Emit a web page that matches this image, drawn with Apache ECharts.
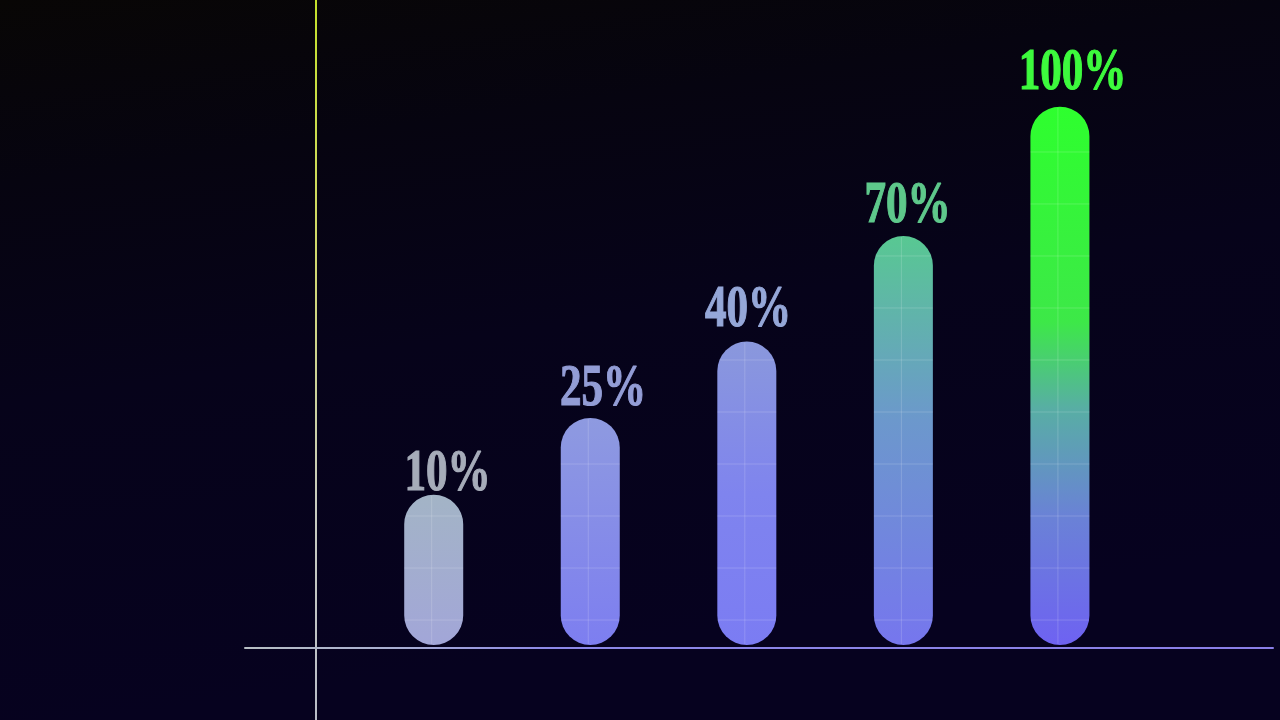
<!DOCTYPE html>
<html>
<head>
<meta charset="utf-8">
<script src="https://cdn.jsdelivr.net/npm/echarts@6/dist/echarts.min.js"></script>
<style>
html,body{margin:0;padding:0;background:#07051a;overflow:hidden;}
#c{width:1280px;height:720px;}
</style>
</head>
<body>
<div id="c"></div>
<script>
// ---- data ----
const labels = ['10%', '25%', '40%', '70%', '100%'];
const slots = [0, 1, 2, 3, 4];
const heights = [28.3, 42.5, 56.6, 76.1, 100];

// ---- styles ----
const BAR_W = 59;
const BASE_GAP = 3;
const GRID_OFFSET = 5.17;
const GRID_STEP = 9.607;
const VLINE_DX = -2;
const TEXT_SCALE_X = 0.73;
const labelShiftX = [13.8, 12.7, 1.2, 4.1, 12.6];
const labelLift = [22, 30, 33, 31.5, 35];
const labelColors = ['#a6acb9', '#939dd6', '#95a7d8', '#5ec88b', '#3dfa3d'];
const barStops = [
  [[0, '#a3b4c6'], [1, '#a2a6d8']],
  [[0, '#8e9ae0'], [1, '#7d7ef0']],
  [[0, '#8a98dc'], [0.5, '#7f84ee'], [1, '#7b7cf3']],
  [[0, '#58c892'], [0.45, '#6c98cc'], [1, '#7676ee']],
  [[0, '#2eff2e'], [0.4, '#3de848'], [0.56, '#58aea4'], [0.76, '#6a82d6'], [1, '#6e62f2']]
];

const chart = echarts.init(document.getElementById('c'), null, {renderer: 'canvas'});
const LG = echarts.graphic.LinearGradient;

function renderItem(params, api) {
  const i = params.dataIndex;
  const xv = api.value(0), hv = api.value(1);
  const topPt = api.coord([xv, hv]);
  const basePt = api.coord([xv, 0]);
  const cx = topPt[0];
  const r = BAR_W / 2;
  const y0 = topPt[1];
  const y1 = basePt[1] - BASE_GAP;
  const children = [];
  children.push({
    type: 'rect',
    shape: {x: cx - r, y: y0, width: BAR_W, height: y1 - y0, r: r},
    style: {fill: new LG(0, 0, 0, 1, barStops[i].map(s => ({offset: s[0], color: s[1]})))}
  });
  const lineStyle = {stroke: 'rgba(255,255,255,0.17)', lineWidth: 1};
  for (let v = GRID_OFFSET; v < hv; v += GRID_STEP) {
    const yy = api.coord([xv, v])[1];
    if (yy <= y0 + 1 || yy >= y1 - 1) continue;
    let hw = r;
    if (yy < y0 + r) { const d = y0 + r - yy; hw = Math.sqrt(Math.max(0, r * r - d * d)); }
    else if (yy > y1 - r) { const d = yy - (y1 - r); hw = Math.sqrt(Math.max(0, r * r - d * d)); }
    children.push({type: 'line', shape: {x1: cx - hw, y1: yy, x2: cx + hw, y2: yy}, style: lineStyle});
  }
  children.push({type: 'line', shape: {x1: cx + VLINE_DX, y1: y0 + 1, x2: cx + VLINE_DX, y2: y1 - 1}, style: lineStyle});
  children.push({
    type: 'text',
    x: cx + labelShiftX[i],
    y: y0 - labelLift[i] + 2,
    scaleX: TEXT_SCALE_X,
    style: {
      text: labels[i], x: 0, y: 0,
      font: 'bold 59px "Liberation Serif", "Times New Roman", serif',
      fill: labelColors[i],
      stroke: labelColors[i], lineWidth: 1.2,
      textAlign: 'center', align: 'center',
      textVerticalAlign: 'middle', verticalAlign: 'middle'
    }
  });
  return {type: 'group', children: children};
}

const option = {
  animation: false,
  backgroundColor: new LG(0, 0, 0.08, 1, [
    {offset: 0, color: '#080605'},
    {offset: 0.25, color: '#060410'},
    {offset: 0.55, color: '#06031a'},
    {offset: 1, color: '#06021f'}
  ]),
  grid: {left: 245, right: 7, top: 0, bottom: 0},
  xAxis: {
    type: 'value',
    min: -1.2054, max: 5.361,
    axisLine: {show: true, onZero: true, lineStyle: {width: 2, color: new LG(0, 0, 1, 0, [
      {offset: 0, color: '#b8c0c4'}, {offset: 0.15, color: '#a8aed2'},
      {offset: 0.3, color: '#8c88e8'}, {offset: 1, color: '#8a7ee8'}
    ])}},
    axisTick: {show: false}, axisLabel: {show: false}, splitLine: {show: false}
  },
  yAxis: {
    type: 'value',
    min: -13.30, max: 119.71,
    position: 'left', offset: -71,
    axisLine: {show: true, onZero: false, lineStyle: {width: 2, color: new LG(0, 0, 0, 1, [
      {offset: 0, color: '#c4e02a'}, {offset: 0.35, color: '#d0d86c'},
      {offset: 0.7, color: '#c8ccc0'}, {offset: 1, color: '#b8bcc8'}
    ])}},
    axisTick: {show: false}, axisLabel: {show: false}, splitLine: {show: false}
  },
  series: [{
    type: 'custom',
    renderItem: renderItem,
    data: heights.map((h, i) => [slots[i], h]),
    clip: false
  }]
};
chart.setOption(option);
</script>
</body>
</html>
